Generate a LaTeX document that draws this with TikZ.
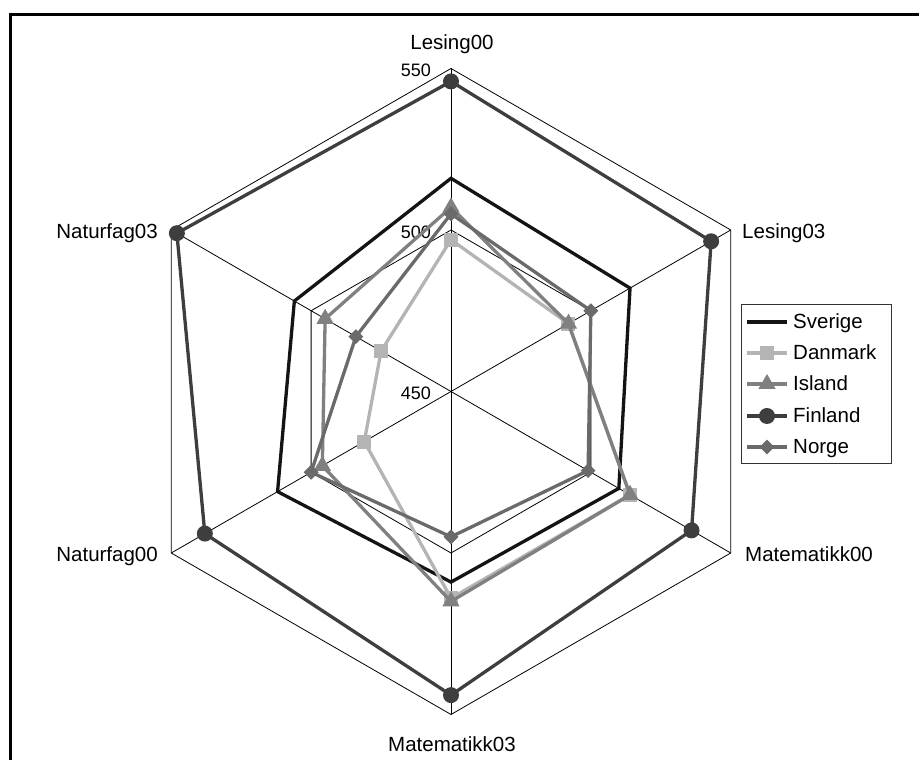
\documentclass[tikz,border=0pt]{standalone}
\usepackage{fontspec}
\setmainfont{Liberation Sans}
\usetikzlibrary{shapes.geometric}
\definecolor{cSve}{HTML}{141414}
\definecolor{cDan}{HTML}{B4B4B4}
\definecolor{cIsl}{HTML}{808080}
\definecolor{cFin}{HTML}{3E3E3E}
\definecolor{cNor}{HTML}{6A6A6A}
\newcommand\radarline[3]{%
  \draw[#1] (90:{(#2-450)*3.23})
  \foreach \v [count=\i] in {#3} { -- ({90-60*\i}:{(\v-450)*3.23}) } -- cycle;}
\begin{document}
\begin{tikzpicture}[x=1pt,y=1pt,
  gridline/.style={line width=0.8pt, black},
  lbl/.style={font=\fontsize{20.5}{23}\selectfont, inner sep=0pt},
  tick/.style={font=\fontsize{18}{20}\selectfont, inner sep=0pt},
  serline/.style={line width=3.3pt, line join=miter},
  mksq/.style={rectangle, fill=cDan, minimum size=14pt, inner sep=0pt},
  mktri/.style={regular polygon, regular polygon sides=3, fill=cIsl, minimum size=20pt, inner sep=0pt},
  mkcirc/.style={circle, fill=cFin, minimum size=16pt, inner sep=0pt},
  mkdia/.style={diamond, fill=cNor, minimum width=15pt, minimum height=15pt, inner sep=0pt},
  legbox/.style={draw=black!80, line width=0.8pt, minimum width=150pt, minimum height=159pt, inner sep=0pt}]
\useasboundingbox (0,0) rectangle (919,760);
% frame
\draw[line width=3.5pt, line join=miter] (10.5,-5) -- (10.5,745.5) -- (925,745.5);
% labels
\node[lbl, anchor=base] (l1) at (452,710) {Lesing00};
\node[lbl, anchor=base west] (l2) at (742,521) {Lesing03};
\node[lbl, anchor=base west] (l3) at (745,198) {Matematikk00};
\node[lbl, anchor=base] (l4) at (452,8) {Matematikk03};
\node[lbl, anchor=base east] (l5) at (158,198) {Naturfag00};
\node[lbl, anchor=base east] (l6) at (158,521) {Naturfag03};
\node[tick, anchor=base east] (t550) at (431,683.5) {550};
\node[tick, anchor=base east] (t500) at (431,521.5) {500};
\node[tick, anchor=base east] (t450) at (431,360.5) {450};
\begin{scope}[shift={(451,368.5)}]
  \coordinate (O) at (0,0);
  \foreach \a in {90,30,-30,-90,-150,150} \draw[gridline] (O) -- (\a:323);
  \draw[gridline] (90:323) -- (30:323) -- (-30:323) -- (-90:323) -- (-150:323) -- (150:323) -- cycle;
  \draw[gridline] (90:161.5) -- (30:161.5) -- (-30:161.5) -- (-90:161.5) -- (-150:161.5) -- (150:161.5) -- cycle;
  % series: Lesing00, Lesing03, Matematikk00, Matematikk03, Naturfag00, Naturfag03
  \radarline{serline, cSve}{516}{514,510,509,512,506}
  \radarline{serline, cDan}{497}{492,514,514,481,475}
  \foreach \v [count=\i] in {497,492,514,514,481,475}
    \node[mksq] (dan\i) at ({150-60*\i}:{(\v-450)*3.23}) {};
  \radarline{serline, cIsl}{507}{492,514,515,496,495}
  \foreach \v [count=\i] in {507,492,514,515,496,495}
    \node[mktri] (isl\i) at ({150-60*\i}:{(\v-450)*3.23}) {};
  \radarline{serline, cFin}{546}{543,536,544,538,548}
  \foreach \v [count=\i] in {546,543,536,544,538,548}
    \node[mkcirc] (fin\i) at ({150-60*\i}:{(\v-450)*3.23}) {};
  \radarline{serline, cNor}{505}{500,499,495,500,484}
  \foreach \v [count=\i] in {505,500,499,495,500,484}
    \node[mkdia] (nor\i) at ({150-60*\i}:{(\v-450)*3.23}) {};
\end{scope}
% legend
\node[legbox] (leg) at (816,376.5) {};
\foreach \nm/\col/\yy/\mk [count=\j] in {Sverige/cSve/438/mksq,Danmark/cDan/407/mksq,Island/cIsl/376/mktri,Finland/cFin/344/mkcirc,Norge/cNor/313/mkdia}{
  \coordinate (la\j) at (747,\yy);
  \coordinate (lb\j) at (787,\yy);
  \draw[line width=3.3pt, \col] (la\j) -- (lb\j);
  \ifnum\j>1 \node[\mk] (lm\j) at (767,\yy) {};\fi
  \node[lbl, anchor=base west] (lt\j) at (793,\yy-7) {\nm};
}
\end{tikzpicture}
\end{document}
